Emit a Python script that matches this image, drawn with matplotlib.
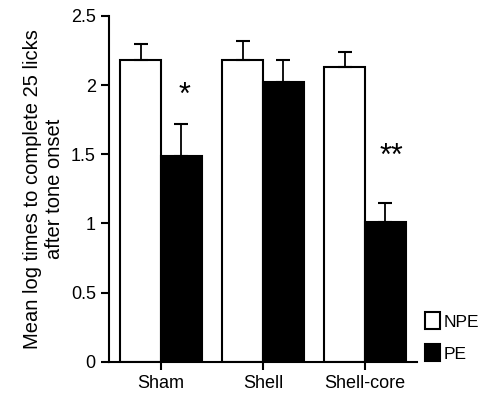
import numpy as np
import matplotlib
matplotlib.use('Agg')
import matplotlib.pyplot as plt

plt.rcParams['font.family'] = ['Liberation Sans', 'DejaVu Sans']

groups = ['Sham', 'Shell', 'Shell-core']
npe_mean = [2.18, 2.18, 2.13]
npe_err = [0.12, 0.14, 0.11]
pe_mean = [1.49, 2.02, 1.01]
pe_err = [0.23, 0.16, 0.14]
stars = ['*', '', '**']
ticks_y = [0, 0.5, 1, 1.5, 2, 2.5]
tick_labels_y = ['0', '0.5', '1', '1.5', '2', '2.5']

fig = plt.figure(figsize=(4.89, 3.97), dpi=100)
ax = fig.add_axes([0.2229, 0.0889, 0.630, 0.8708])

x = np.arange(len(groups))
w = 0.40
ax.bar(x - w / 2, npe_mean, w, color='white', edgecolor='black', linewidth=1.5,
       label='NPE')
ax.bar(x + w / 2, pe_mean, w, color='black', edgecolor='black', linewidth=1.5,
       label='PE')
ax.errorbar(x - w / 2, npe_mean, yerr=[np.zeros(3), npe_err], fmt='none',
            ecolor='black', elinewidth=1.3, capsize=5, capthick=1.5)
ax.errorbar(x + w / 2, pe_mean, yerr=[np.zeros(3), pe_err], fmt='none',
            ecolor='black', elinewidth=1.3, capsize=5, capthick=1.5)

# significance marks to the right of the PE bars
star_pos = [(0.23, 1.92), None, (0.26, 1.48)]
for i, s in enumerate(stars):
    if s:
        ax.text(x[i] + star_pos[i][0], star_pos[i][1], s, ha='center',
                va='center', fontsize=22)

ax.set_xlim(-0.51, 2.51)
ax.set_ylim(0, 2.5)
ax.set_xticks(x)
ax.set_xticklabels(groups, fontsize=13)
ax.set_yticks(ticks_y)
ax.set_yticklabels(tick_labels_y, fontsize=13)
ax.set_ylabel('Mean log times to complete 25 licks\nafter tone onset', fontsize=14.5,
              labelpad=5)
ax.spines['top'].set_visible(False)
ax.spines['right'].set_visible(False)
for sp in ['left', 'bottom']:
    ax.spines[sp].set_linewidth(1.5)
ax.tick_params(width=1.5, length=6, direction='out')

ax.legend(loc='lower left', bbox_to_anchor=(0.975, -0.045), frameon=False,
          fontsize=12.5, handlelength=0.85, handleheight=1.1, handletextpad=0.2,
          labelspacing=0.85)

fig.savefig('out.png', dpi=100)
